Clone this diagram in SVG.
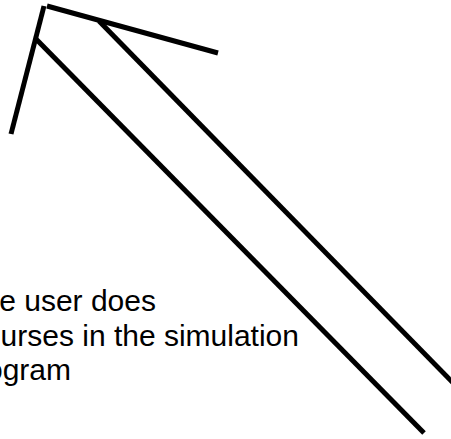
<svg xmlns="http://www.w3.org/2000/svg" width="451" height="439" viewBox="0 0 451 439">
<style>
.ln{stroke:#000;stroke-width:5;fill:none;stroke-linecap:butt}
.tx{font-family:"Liberation Sans",Arial,sans-serif;font-size:30px;fill:#000;text-anchor:end}
</style>
<rect width="451" height="439" fill="#fff"/>
<g id="arrow">
<line class="ln" x1="11" y1="134" x2="44" y2="6"/>
<line class="ln" x1="47" y1="6" x2="218" y2="53"/>
<line class="ln" x1="36" y1="39" x2="424" y2="433"/>
<line class="ln" x1="99" y1="21" x2="462" y2="392"/>
</g>
<g id="label">
<text class="tx" x="156" y="311">e user does</text>
<text class="tx" x="299" y="346">urses in the simulation</text>
<text class="tx" x="71" y="380">ogram</text>
</g>
</svg>
